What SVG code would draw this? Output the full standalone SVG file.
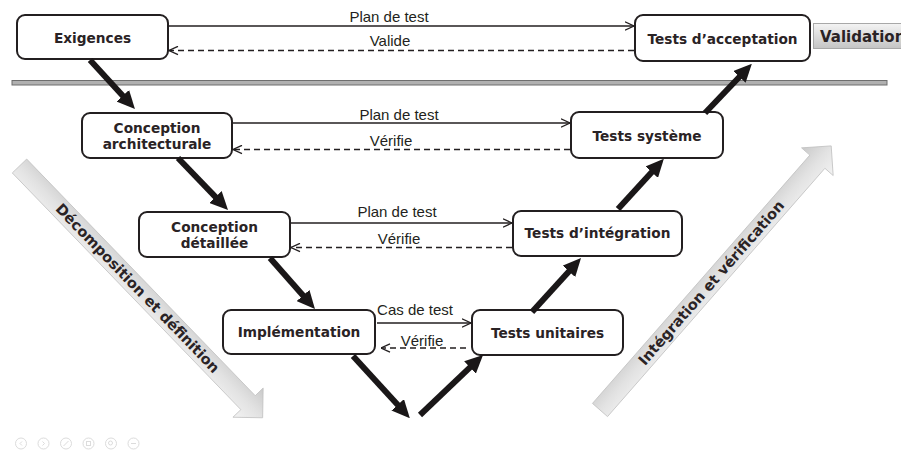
<svg xmlns="http://www.w3.org/2000/svg" width="901" height="451" viewBox="0 0 901 451">
  <style>
    .box { fill: #ffffff; stroke: #231f20; stroke-width: 2; }
    .ntxt { font-family: "DejaVu Sans", Verdana, sans-serif; font-weight: bold; font-size: 13.7px; fill: #2a2325; text-anchor: middle; }
    .lbl { font-family: "Liberation Sans", Arial, sans-serif; font-size: 15px; fill: #231f20; text-anchor: middle; }
    .thin { stroke: #231f20; stroke-width: 1.3; fill: none; marker-end: url(#open); }
    .dash { stroke-dasharray: 6 4; }
    .thick { stroke: #1a1718; stroke-width: 6; fill: none; marker-end: url(#solid); }
    .side { font-family: "DejaVu Sans", Verdana, sans-serif; font-weight: bold; font-size: 14.6px; fill: #2a2325; text-anchor: middle; }
    .ui { fill: none; stroke: #dcdcdc; stroke-width: 1; }
  </style>
  <defs>
    <marker id="open" viewBox="0 0 10 10" refX="9.5" refY="5" markerWidth="10" markerHeight="10" markerUnits="userSpaceOnUse" orient="auto">
      <path d="M0.5,0.8 L9.5,5 L0.5,9.2" fill="none" stroke="#231f20" stroke-width="1.3" stroke-dasharray="none"/>
    </marker>
    <marker id="solid" viewBox="0 0 18 17" refX="4" refY="8.5" markerWidth="18" markerHeight="17" markerUnits="userSpaceOnUse" orient="auto">
      <path d="M0,0 L18,8.5 L0,17 Z" fill="#1a1718"/>
    </marker>
    <linearGradient id="bar" x1="0" y1="0" x2="0" y2="1">
      <stop offset="0" stop-color="#c9c9c9"/>
      <stop offset="0.5" stop-color="#e2e2e2"/>
      <stop offset="1" stop-color="#f3f3f3"/>
    </linearGradient>
    <linearGradient id="valg" x1="0" y1="0" x2="0" y2="1">
      <stop offset="0" stop-color="#f4f4f4"/>
      <stop offset="1" stop-color="#c4c4c4"/>
    </linearGradient>
  </defs>

  <!-- separator -->
  <rect x="12" y="80.5" width="875" height="4.5" fill="#b0b0b0" stroke="#6e6e6e" stroke-width="1"/>

  <!-- Validation tag -->
  <g id="validation">
    <rect x="813.5" y="23.5" width="95" height="25" fill="url(#valg)" stroke="#a8a8a8" stroke-width="1"/>
    <text x="820" y="41.5" font-family="DejaVu Sans, Verdana, sans-serif" font-weight="bold" font-size="15px" fill="#2a2325">Validation</text>
  </g>

  <!-- side arrows -->
  <g id="decomposition" transform="translate(19.5,166) rotate(46)">
    <path d="M0,-10 L329,-10 L329,-21 L350,0 L329,21 L329,10 L0,10 Z" fill="url(#bar)" stroke="#c2c2c2" stroke-width="0.8"/>
    <text class="side" x="170" y="5">Décomposition et définition</text>
  </g>
  <g id="integration" transform="translate(600,410) rotate(-48.8)">
    <path d="M0,-10 L330,-10 L330,-21 L351,0 L330,21 L330,10 L0,10 Z" fill="url(#bar)" stroke="#c2c2c2" stroke-width="0.8"/>
    <text class="side" x="169" y="5">Intégration et vérification</text>
  </g>

  <!-- nodes -->
  <g id="exigences">
    <rect class="box" x="17" y="15" width="151" height="44" rx="8"/>
    <text class="ntxt" x="92.5" y="43">Exigences</text>
  </g>
  <g id="tests-acceptation">
    <rect class="box" x="635" y="15" width="175" height="46" rx="8"/>
    <text class="ntxt" x="722.5" y="43.5">Tests d’acceptation</text>
  </g>
  <g id="conception-architecturale">
    <rect class="box" x="82" y="113" width="150" height="45" rx="8"/>
    <text class="ntxt" x="157" y="133.3">Conception</text>
    <text class="ntxt" x="157" y="149.3">architecturale</text>
  </g>
  <g id="tests-systeme">
    <rect class="box" x="571" y="112" width="152" height="46" rx="8"/>
    <text class="ntxt" x="647" y="141">Tests système</text>
  </g>
  <g id="conception-detaillee">
    <rect class="box" x="139" y="212" width="151" height="45" rx="8"/>
    <text class="ntxt" x="214.5" y="231.7">Conception</text>
    <text class="ntxt" x="214.5" y="247.7">détaillée</text>
  </g>
  <g id="tests-integration">
    <rect class="box" x="513" y="211" width="169" height="45" rx="8"/>
    <text class="ntxt" x="597.5" y="238.3">Tests d’intégration</text>
  </g>
  <g id="implementation">
    <rect class="box" x="223" y="310" width="152" height="44" rx="8"/>
    <text class="ntxt" x="299" y="337.3">Implémentation</text>
  </g>
  <g id="tests-unitaires">
    <rect class="box" x="472" y="310" width="151" height="45" rx="8"/>
    <text class="ntxt" x="547.5" y="338.3">Tests unitaires</text>
  </g>

  <!-- connectors -->
  <g id="connectors">
    <line class="thin" x1="168" y1="26" x2="634" y2="26"/>
    <line class="thin dash" x1="634" y1="50.5" x2="169" y2="50.5"/>
    <line class="thin" x1="233" y1="123" x2="570" y2="123"/>
    <line class="thin dash" x1="570" y1="149.5" x2="233" y2="149.5"/>
    <line class="thin" x1="291" y1="223" x2="512" y2="223"/>
    <line class="thin dash" x1="512" y1="247.5" x2="291" y2="247.5"/>
    <line class="thin" x1="377" y1="323" x2="471" y2="323"/>
    <line class="thin dash" x1="466" y1="348" x2="381" y2="348"/>

    <line class="thick" x1="90" y1="60" x2="125.5" y2="98.7"/>
    <line class="thick" x1="178" y1="158" x2="218.3" y2="199.9"/>
    <line class="thick" x1="270" y1="258" x2="305.7" y2="298.5"/>
    <line class="thick" x1="353" y1="356" x2="400.4" y2="407.8"/>
    <line class="thick" x1="420" y1="415" x2="472.9" y2="364.7"/>
    <line class="thick" x1="532" y1="312" x2="571.6" y2="268.4"/>
    <line class="thick" x1="618" y1="209" x2="654.4" y2="169.2"/>
    <line class="thick" x1="705" y1="113" x2="742.2" y2="74"/>

    <text class="lbl" x="389" y="22">Plan de test</text>
    <text class="lbl" x="390" y="46">Valide</text>
    <text class="lbl" x="399" y="119.5">Plan de test</text>
    <text class="lbl" x="391" y="146">Vérifie</text>
    <text class="lbl" x="397" y="217">Plan de test</text>
    <text class="lbl" x="399" y="243.5">Vérifie</text>
    <text class="lbl" x="415" y="315">Cas de test</text>
    <text class="lbl" x="422" y="345.5">Vérifie</text>
  </g>

  <!-- faint viewer controls -->
  <g id="controls">
    <circle class="ui" cx="21" cy="443.5" r="5.5"/>
    <path class="ui" d="M22,441.5 L20,443.5 L22,445.5"/>
    <circle class="ui" cx="43.5" cy="443.5" r="5.5"/>
    <path class="ui" d="M42.5,441.5 L44.5,443.5 L42.5,445.5"/>
    <circle class="ui" cx="66" cy="443.5" r="5.5"/>
    <path class="ui" d="M63.5,446 L68.5,441"/>
    <circle class="ui" cx="88.5" cy="443.5" r="5.5"/>
    <rect class="ui" x="86.5" y="441.5" width="4" height="4"/>
    <circle class="ui" cx="111" cy="443.5" r="5.5"/>
    <circle class="ui" cx="110.5" cy="443" r="2"/>
    <circle class="ui" cx="133.5" cy="443.5" r="5.5"/>
    <path class="ui" d="M131,443.5 L136,443.5"/>
  </g>
</svg>
